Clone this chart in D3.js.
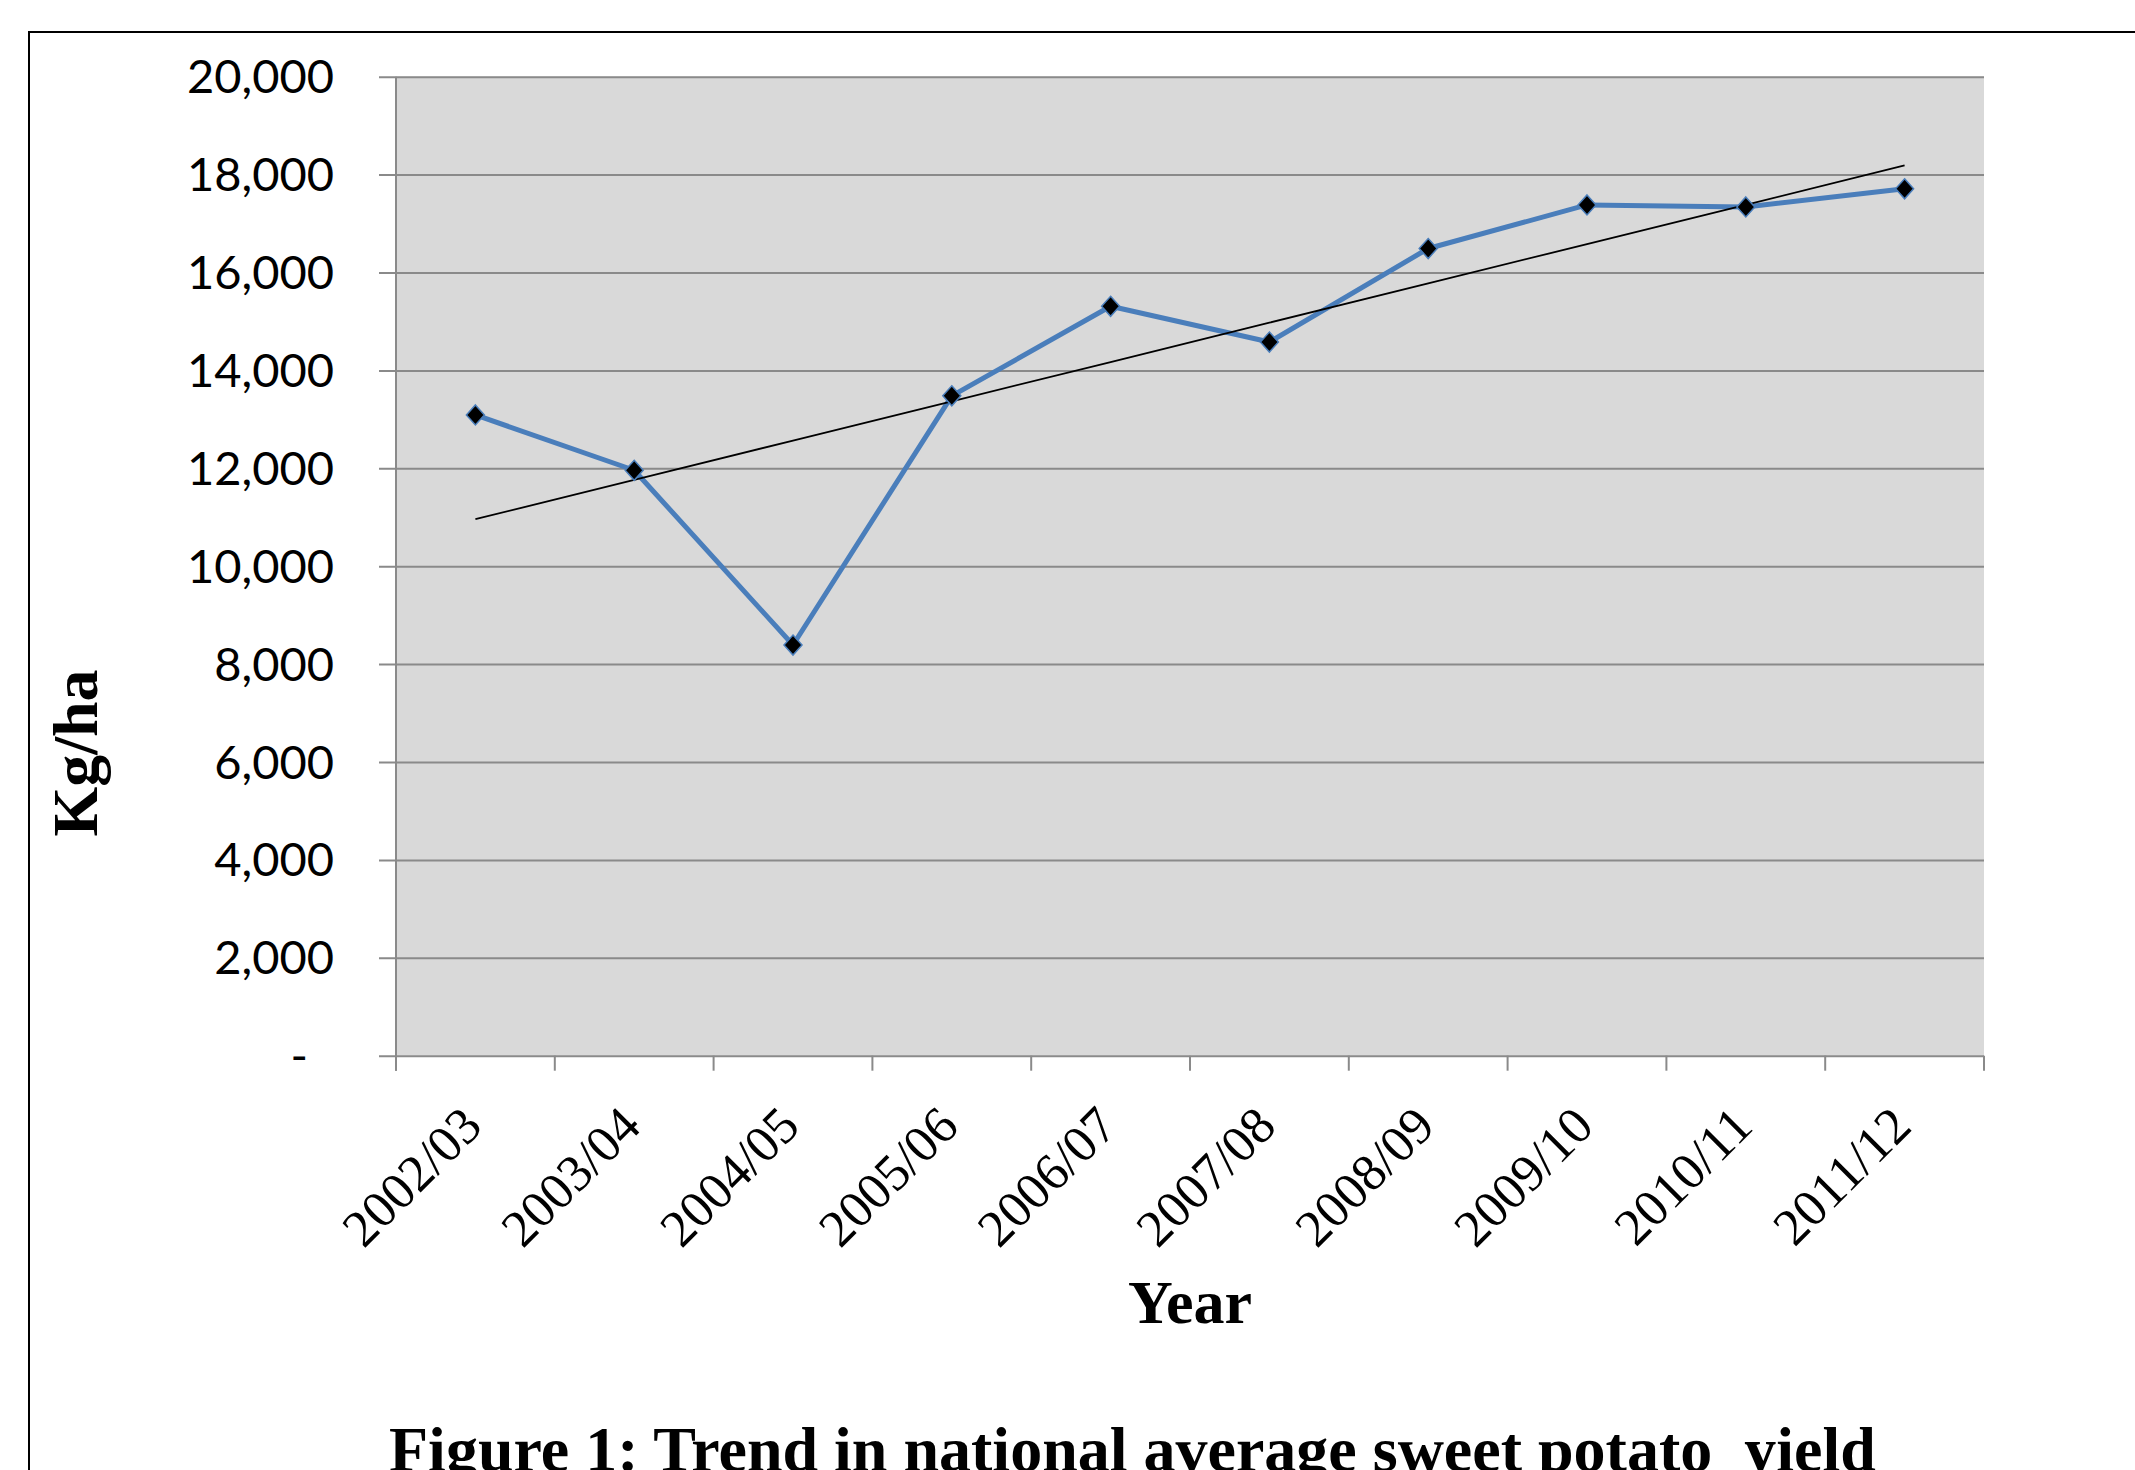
<!DOCTYPE html>
<html>
<head>
<meta charset="utf-8">
<script src="https://cdn.jsdelivr.net/npm/d3@7"></script>
<style>
  html, body { margin: 0; padding: 0; background: #ffffff; }
  svg { display: block; }
</style>
</head>
<body>
<svg id="chart" width="2135" height="1470"></svg>
<script>
// Season labels (x categories)
const seasons = ["2002/03", "2003/04", "2004/05", "2005/06", "2006/07",
                 "2007/08", "2008/09", "2009/10", "2010/11", "2011/12"];

// National average sweet potato yield, kg/ha
const yieldKgHa = [13090, 11960, 8390, 13480, 15310, 14580, 16490, 17380, 17340, 17710];

// Value axis ticks
const yTickValues = [0, 2000, 4000, 6000, 8000, 10000, 12000, 14000, 16000, 18000, 20000];

const titleText = "Figure 1: Trend in national average sweet potato  yield";
const xAxisTitle = "Year";
const yAxisTitle = "Kg/ha";

// ---- layout ----
const W = 2135, H = 1470;
const plot = { left: 396, right: 1984, top: 76.7, bottom: 1055.7 };
const gridColor = "#8a8a8a";
const seriesColor = "#4a7ebb";

const svg = d3.select("#chart");

// outer frame of the figure (runs off the right and bottom edges)
svg.append("rect")
  .attr("x", 29).attr("y", 32)
  .attr("width", W).attr("height", H)
  .attr("fill", "#ffffff")
  .attr("stroke", "#000000")
  .attr("stroke-width", 2);

const x = d3.scaleBand().domain(seasons).range([plot.left, plot.right]).padding(0);
const y = d3.scaleLinear().domain([0, 20000]).range([plot.bottom, plot.top]);
const cx = d => x(d) + x.bandwidth() / 2;

// plot area background
svg.append("rect")
  .attr("x", plot.left).attr("y", plot.top)
  .attr("width", plot.right - plot.left).attr("height", plot.bottom - plot.top)
  .attr("fill", "#d9d9d9");

// value axis: gridlines, outward ticks and labels
const tickOut = 17;
const yAxis = d3.axisLeft(y)
  .tickValues(yTickValues)
  .tickSizeInner(-(plot.right - plot.left + tickOut))
  .tickSizeOuter(0)
  .tickPadding(45)
  .tickFormat(v => v === 0 ? "-" : d3.format(",")(v));

const gy = svg.append("g")
  .attr("transform", `translate(${plot.left - tickOut},0)`)
  .call(yAxis);
gy.select(".domain").remove();
gy.selectAll(".tick line").attr("stroke", gridColor).attr("stroke-width", 2);
gy.selectAll(".tick text")
  .attr("fill", "#000")
  .attr("font-family", "Lato, 'Open Sans', sans-serif")
  .attr("font-size", 47)
  .attr("dy", 16)
  .attr("dx", v => v === 0 ? -26 : 0);

// vertical axis line
svg.append("line")
  .attr("x1", plot.left).attr("x2", plot.left)
  .attr("y1", plot.top).attr("y2", plot.bottom + 15)
  .attr("stroke", gridColor).attr("stroke-width", 2);

// category axis ticks sit on the band boundaries
const boundaries = seasons.map(s => x(s)).concat([x.range()[1]]);
svg.append("g").selectAll("line")
  .data(boundaries)
  .join("line")
  .attr("x1", d => d).attr("x2", d => d)
  .attr("y1", plot.bottom).attr("y2", plot.bottom + 15)
  .attr("stroke", gridColor).attr("stroke-width", 2);

// category labels, rotated
svg.append("g").selectAll("text")
  .data(seasons)
  .join("text")
  .attr("transform", d => `translate(${cx(d) + 9},${plot.bottom + 73}) rotate(-45)`)
  .attr("text-anchor", "end")
  .attr("font-family", "'Liberation Serif', 'Times New Roman', serif")
  .attr("font-size", 52)
  .attr("fill", "#000")
  .text(d => d);

// series line
const line = d3.line()
  .x((d, i) => cx(seasons[i]))
  .y(d => y(d));

svg.append("path")
  .datum(yieldKgHa)
  .attr("d", line)
  .attr("fill", "none")
  .attr("stroke", seriesColor)
  .attr("stroke-width", 5)
  .attr("stroke-linejoin", "round");

// linear trend (least squares on season index)
const n = yieldKgHa.length;
const idx = d3.range(1, n + 1);
const mx = d3.mean(idx), my = d3.mean(yieldKgHa);
const slope = d3.sum(idx, (t, i) => (t - mx) * (yieldKgHa[i] - my)) / d3.sum(idx, t => (t - mx) ** 2);
const intercept = my - slope * mx;
const trend = idx.map(t => intercept + slope * t);

svg.append("path")
  .datum(trend)
  .attr("d", line)
  .attr("fill", "none")
  .attr("stroke", "#000")
  .attr("stroke-width", 1.8);

// diamond markers
const hw = 9, hh = 10;
svg.append("g").selectAll("path")
  .data(yieldKgHa)
  .join("path")
  .attr("transform", (d, i) => `translate(${cx(seasons[i])},${y(d)})`)
  .attr("d", `M0,${-hh}L${hw},0L0,${hh}L${-hw},0Z`)
  .attr("fill", "#000")
  .attr("stroke", seriesColor)
  .attr("stroke-width", 1.5);

// axis titles
svg.append("text")
  .attr("x", (plot.left + plot.right) / 2)
  .attr("y", 1322.7)
  .attr("text-anchor", "middle")
  .attr("font-family", "'Liberation Serif', 'Times New Roman', serif")
  .attr("font-weight", "bold")
  .attr("font-size", 62)
  .attr("fill", "#000")
  .text(xAxisTitle);

svg.append("text")
  .attr("transform", "translate(96.7,753) rotate(-90)")
  .attr("text-anchor", "middle")
  .attr("font-family", "'Liberation Serif', 'Times New Roman', serif")
  .attr("font-weight", "bold")
  .attr("font-size", 64)
  .attr("fill", "#000")
  .text(yAxisTitle);

// figure caption (partly cut by the bottom edge)
svg.append("text")
  .attr("x", 389)
  .attr("y", 1471)
  .attr("font-family", "'Liberation Serif', 'Times New Roman', serif")
  .attr("font-weight", "bold")
  .attr("font-size", 64)
  .attr("fill", "#000")
  .style("white-space", "pre")
  .text(titleText);
</script>
</body>
</html>
